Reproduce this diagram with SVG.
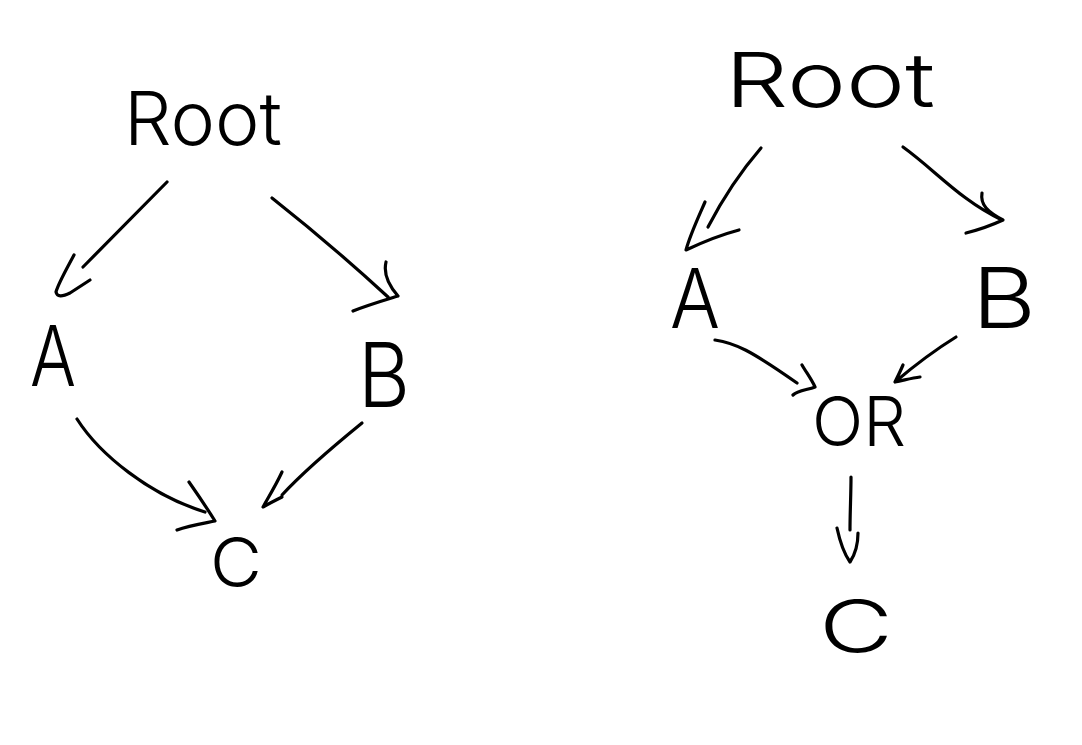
<svg xmlns="http://www.w3.org/2000/svg" width="1082" height="745" viewBox="0 0 1082 745">
<style>
.lbl{font-family:"Inter","DejaVu Sans",sans-serif;font-weight:260;fill:#000}
.edge path{fill:none;stroke:#000;stroke-width:3.2;stroke-linecap:round;stroke-linejoin:round}
</style>
<rect width="1082" height="745" fill="#fff"/>
<g id="left-root"><text class="lbl" x="124" y="145" font-size="74" textLength="158" lengthAdjust="spacingAndGlyphs">Root</text></g>
<g id="left-a"><text class="lbl" x="30" y="386" font-size="84" textLength="46" lengthAdjust="spacingAndGlyphs">A</text></g>
<g id="left-b"><text class="lbl" x="358" y="407" font-size="90" textLength="52" lengthAdjust="spacingAndGlyphs">B</text></g>
<g id="left-c"><text class="lbl" x="210" y="587" font-size="68" textLength="52" lengthAdjust="spacingAndGlyphs">C</text></g>
<g id="right-root"><text class="lbl" x="725" y="107" font-size="76" textLength="210" lengthAdjust="spacingAndGlyphs">Root</text></g>
<g id="right-a"><text class="lbl" x="670" y="328" font-size="82" textLength="50" lengthAdjust="spacingAndGlyphs">A</text></g>
<g id="right-b"><text class="lbl" x="972" y="328" font-size="84" textLength="64" lengthAdjust="spacingAndGlyphs">B</text></g>
<g id="right-or"><text class="lbl" x="812" y="446" font-size="68" textLength="94" lengthAdjust="spacingAndGlyphs">OR</text></g>
<g id="right-c"><text class="lbl" x="819" y="652" font-size="72" textLength="74" lengthAdjust="spacingAndGlyphs">C</text></g>
<g id="connectors" class="edge">
<path d="M167,182 L83,267 M74,255 C66,270 58,284 56,292 C57,297 62,297 70,293 L90,280"/>
<path d="M272,198 C310,228 350,262 388,297 M386,262 C383,275 390,287 398,296 C385,300 368,305 353,311"/>
<path d="M77,419 C100,455 150,495 205,512 M189,482 C196,492 205,505 215,521 C200,524 188,526 177,530"/>
<path d="M362,423 C335,445 305,470 282,495 M282,472 C276,485 268,498 263,507 C270,503 276,500 282,497"/>
<path d="M761,148 C742,170 722,200 708,227 M705,202 C698,218 690,235 686,250 C703,242 720,235 739,230"/>
<path d="M903,147 C935,170 960,200 1002,220 M982,193 C980,205 988,212 1003,220 C990,226 978,230 966,233"/>
<path d="M715,340 C735,343 750,350 797,383 M802,365 C806,372 812,380 815,387 C808,390 798,390 793,395"/>
<path d="M956,337 C935,350 915,365 895,382 M903,365 C900,372 897,378 895,382 C905,380 912,378 920,377"/>
<path d="M851,477 C851,495 850,512 850,530 M837,528 C840,542 845,555 850,562 C856,553 858,543 858,533"/>
</g>
</svg>
